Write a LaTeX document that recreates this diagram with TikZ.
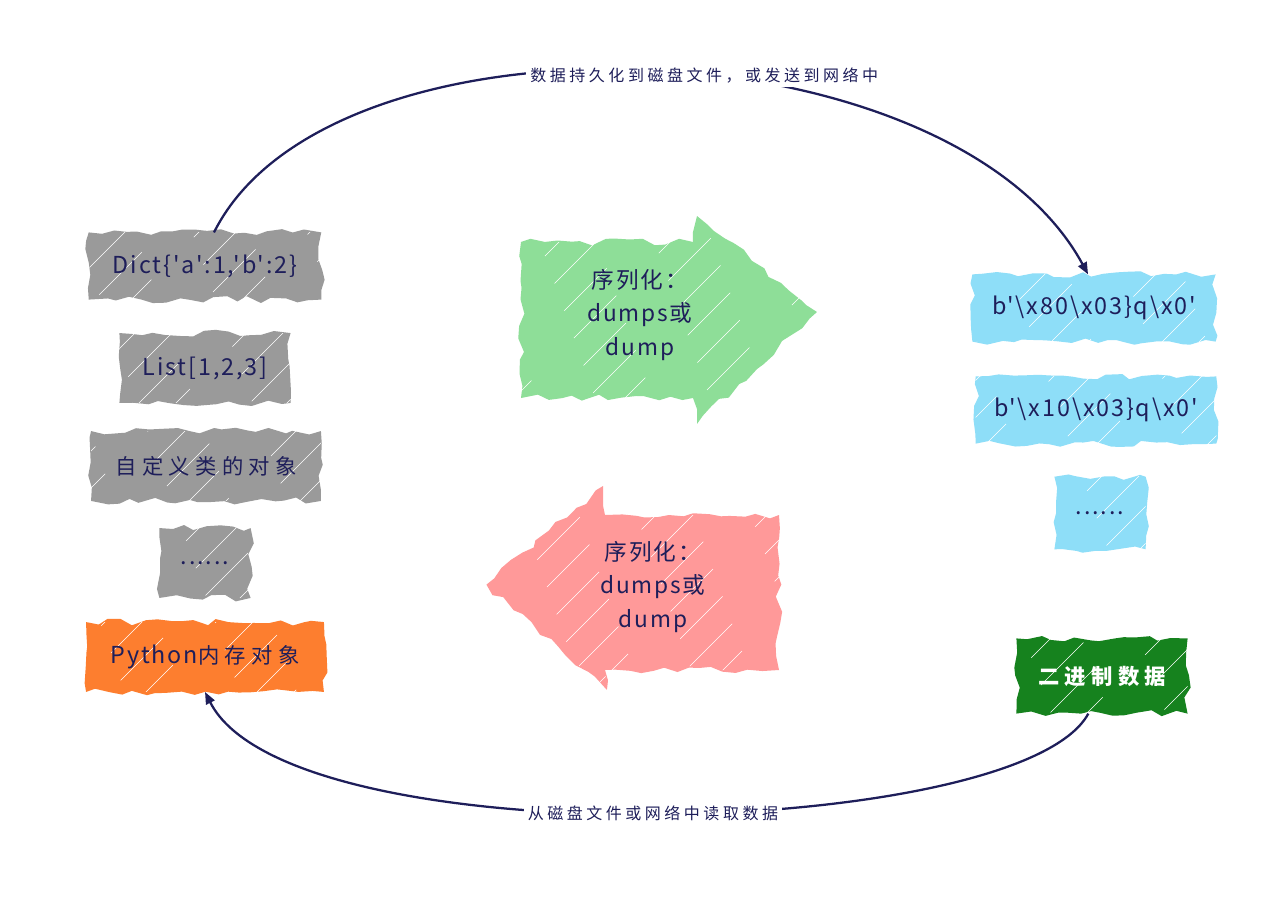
\documentclass[tikz,border=0pt]{standalone}
\usepackage{fontspec}
\setmainfont{Noto Sans CJK SC}[Ligatures=TeXOff]
\usetikzlibrary{arrows.meta,decorations.pathmorphing,backgrounds}
\definecolor{ink}{RGB}{30,30,90}
\definecolor{cgray}{RGB}{154,154,154}
\definecolor{corange}{RGB}{253,126,47}
\definecolor{cgreenl}{RGB}{142,222,152}
\definecolor{cred}{RGB}{255,153,153}
\definecolor{cblue}{RGB}{142,222,248}
\definecolor{cgreend}{RGB}{22,130,30}
\pgfmathsetseed{7}
\newcommand\hatchfill[2]{%
  \fill[#1, decorate, decoration={random steps,segment length=9pt,amplitude=2.6pt}] #2;
  \begin{scope}
    \clip #2;
    \foreach \k [evaluate=\k as \ph using {mod(\k*29,90)}] in {0,...,62}
      \draw[white, line width=0.5pt, dash pattern=on 45pt off 45pt, dash phase=\ph pt]
        ({-950+\k*37},900) -- ({-50+\k*37},0);
  \end{scope}}
\newcommand\cj[1]{{\fontsize{16}{20}\selectfont\addfontfeature{LetterSpace=25}#1}}
\tikzset{
  txt/.style={text=ink, font=\fontsize{17.5}{21}\selectfont\addfontfeature{LetterSpace=8}, inner sep=0pt, align=center},
  big/.style={text=ink, font=\fontsize{17}{25}\selectfont\addfontfeature{LetterSpace=8}, align=center, inner sep=0pt},
  lbl/.style={text=ink, fill=white, font=\fontsize{12}{14}\selectfont\addfontfeature{LetterSpace=22}, inner sep=3pt},
  conn/.style={draw=ink, line width=1.7pt, -{Triangle[length=9pt,width=7pt]}}
}
\begin{document}
\begin{tikzpicture}[x=0.75pt,y=-0.75pt]
\useasboundingbox (0,0) rectangle (1284,899);
% left column
\node[txt, minimum width=174pt, minimum height=50pt] (dict) at (205,266) {Dict\{'a':1,'b':2\}};
\node[txt, minimum width=128pt, minimum height=52pt] (list) at (205,368) {List[1,2,3]};
\node[txt, minimum width=172pt, minimum height=52pt] (obj) at (206,466) {\cj{自定义类的对象}};
\node[txt, minimum width=68pt, minimum height=52pt] (ldots) at (205,563) {......};
\node[txt, minimum width=178pt, minimum height=52pt] (py) at (205,657) {Python\cj{内存对象}};
% right column
\node[txt, minimum width=182pt, minimum height=50pt] (b1) at (1094,308) {b'\textbackslash x80\textbackslash x03\}q\textbackslash x0'};
\node[txt, minimum width=180pt, minimum height=50pt] (b2) at (1096,410) {b'\textbackslash x10\textbackslash x03\}q\textbackslash x0'};
\node[txt, minimum width=68pt, minimum height=54pt] (rdots) at (1100,513) {......};
\node[txt, text=white, minimum width=128pt, minimum height=56pt] (bin) at (1102,676) {\bfseries\cj{二进制数据}};
% arrows
\node[big] (ser) at (640,315) {序列化：\\dumps或\\dump};
\node[big] (des) at (653,587) {序列化：\\dumps或\\dump};
\begin{pgfonlayer}{background}
  \fill[white] (0,0) rectangle (1284,899);
  \hatchfill{cgray}{(dict.south west) rectangle (dict.north east)}
  \hatchfill{cgray}{(list.south west) rectangle (list.north east)}
  \hatchfill{cgray}{(obj.south west) rectangle (obj.north east)}
  \hatchfill{cgray}{(ldots.south west) rectangle (ldots.north east)}
  \hatchfill{corange}{(py.south west) rectangle (py.north east)}
  \hatchfill{cblue}{(b1.south west) rectangle (b1.north east)}
  \hatchfill{cblue}{(b2.south west) rectangle (b2.north east)}
  \hatchfill{cblue}{(rdots.south west) rectangle (rdots.north east)}
  \hatchfill{cgreend}{(bin.south west) rectangle (bin.north east)}
  \hatchfill{cgreenl}{(521,242) -- (693,242) -- (697,216) -- (817,312) -- (697,424) -- (693,398) -- (521,398) -- cycle}
  \hatchfill{cred}{(779,515) -- (605,515) -- (603,486) -- (486,585) -- (607,690) -- (605,670) -- (779,670) -- cycle}
\end{pgfonlayer}
% connectors
\draw[conn] (dict.75) .. controls (330,0) and (950,20) .. (b1.100)
  node[lbl, pos=0.555] {数据持久化到磁盘文件，或发送到网络中};
\draw[conn] (bin.250) .. controls (1020,840) and (290,860) .. (py.south)
  node[lbl, pos=0.5] {从磁盘文件或网络中读取数据};
\end{tikzpicture}
\end{document}
